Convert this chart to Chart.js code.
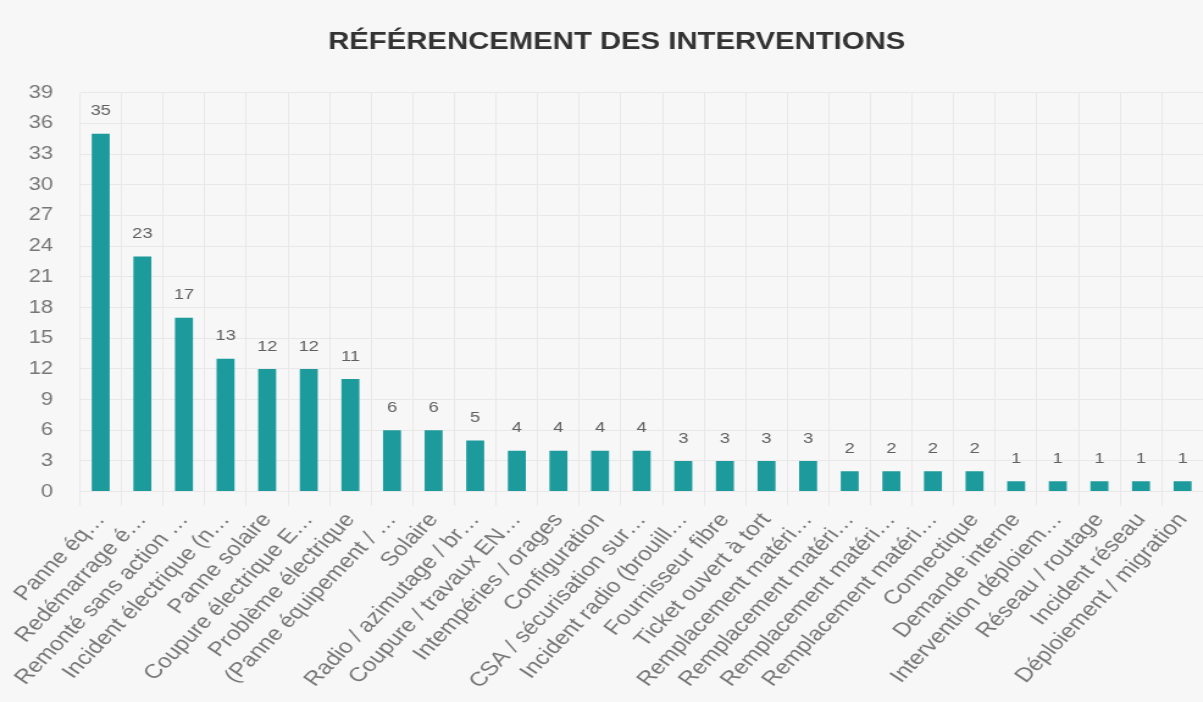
<!DOCTYPE html>
<html>
<head>
<meta charset="utf-8">
<script src="https://cdn.jsdelivr.net/npm/chart.js@4/dist/chart.umd.min.js"></script>
<style>
  html, body { margin: 0; padding: 0; background: #f7f7f7; overflow: hidden; width: 1203px; height: 702px; }
  /* the reference is a horizontally stretched screenshot, cut on the right */
  #wrap { width: 991px; height: 702px; transform: scaleX(1.22); transform-origin: 0 0; }
</style>
</head>
<body>
<div id="wrap"><canvas id="myChart"></canvas></div>
<script>
// categories and counts
const labels = [
  'Panne éq…', 'Redémarrage é…', 'Remonté sans action …', 'Incident électrique (n…',
  'Panne solaire', 'Coupure électrique E…', 'Problème électrique', '(Panne équipement / …',
  'Solaire', 'Radio / azimutage / br…', 'Coupure / travaux EN…', 'Intempéries / orages',
  'Configuration', 'CSA / sécurisation sur…', 'Incident radio (brouill…', 'Fournisseur fibre',
  'Ticket ouvert à tort', 'Remplacement matéri…', 'Remplacement matéri…', 'Remplacement matéri…',
  'Remplacement matéri…', 'Connectique', 'Demande interne', 'Intervention déploiem…',
  'Réseau / routage', 'Incident réseau', 'Déploiement / migration'
];
const counts = [35, 23, 17, 13, 12, 12, 11, 6, 6, 5, 4, 4, 4, 4, 3, 3, 3, 3, 2, 2, 2, 2, 1, 1, 1, 1, 1];
const yMax = 39;
const yStep = 3;

const FONT = '"Liberation Sans", Arial, sans-serif';

// values written above each bar
const valueLabels = {
  id: 'valueLabels',
  afterDatasetsDraw(chart) {
    const c = chart.ctx;
    const meta = chart.getDatasetMeta(0);
    c.save();
    c.font = '15px ' + FONT;
    c.fillStyle = '#606060';
    c.textAlign = 'center';
    c.textBaseline = 'bottom';
    meta.data.forEach((bar, i) => {
      c.fillText(chart.data.datasets[0].data[i], bar.x, bar.y - 15);
    });
    c.restore();
  }
};

const ctx = document.getElementById('myChart');
new Chart(ctx, {
  type: 'bar',
  data: {
    labels: labels,
    datasets: [{
      data: counts,
      backgroundColor: '#1d9a9b',
      barPercentage: 0.48,
      categoryPercentage: 0.9
    }]
  },
  options: {
    responsive: true,
    maintainAspectRatio: false,
    animation: false,
    layout: { padding: { left: 20, right: 0, top: 16, bottom: 6 } },
    plugins: {
      legend: { display: false },
      tooltip: { enabled: false },
      title: {
        display: true,
        text: 'RÉFÉRENCEMENT DES INTERVENTIONS',
        color: '#333',
        font: { family: FONT, size: 24, weight: 'bold' },
        padding: { top: 12, bottom: 36 }
      }
    },
    scales: {
      y: {
        afterFit(scale) { scale.width = 45.5; },
        beginAtZero: true,
        max: yMax,
        ticks: {
          stepSize: yStep,
          color: '#777',
          padding: 22,
          font: { family: FONT, size: 18 }
        },
        grid: { color: '#e8e8e8', drawTicks: false },
        border: { display: false }
      },
      x: {
        // rotated labels may run past the left edge, as in the reference
        afterFit(scale) { scale.paddingLeft = 0; },
        ticks: {
          color: '#777',
          maxRotation: 51,
          minRotation: 51,
          autoSkip: false,
          font: { family: FONT, size: 20 }
        },
        grid: { color: '#e8e8e8', tickLength: 14 },
        border: { display: false }
      }
    }
  },
  plugins: [valueLabels]
});
</script>
</body>
</html>
